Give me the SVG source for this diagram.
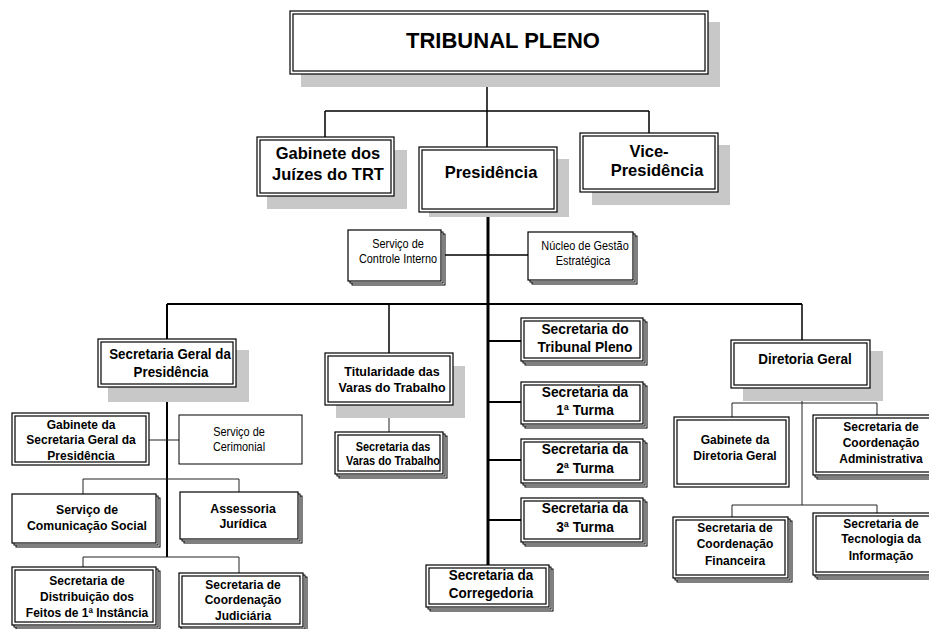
<svg xmlns="http://www.w3.org/2000/svg" width="929" height="629" viewBox="0 0 929 629">
  <style>
    .bg { fill: #ffffff; }
    .box { fill: #ffffff; stroke: #000; stroke-width: 1.2; }
    .inner { fill: none; stroke: #000; stroke-width: 1.2; }
    .sh { fill: #c8c8c8; }
    .stk { fill: #ffffff; stroke: #000; stroke-width: 1; }
    .ln { fill: none; stroke: #000; stroke-width: 1.5; }
    .thk { fill: none; stroke: #000; stroke-width: 3; }
    .med { fill: none; stroke: #000; stroke-width: 2; }
    .thin { fill: none; stroke: #222; stroke-width: 1; }
    text { font-family: "Liberation Sans", Arial, sans-serif; font-weight: bold; text-anchor: middle; fill: #000; }
    .reg { font-weight: normal; }
    /* narrow lettering for the smaller labels */
    .n84, .n89, .n91, .n93, .n95 { transform-box: fill-box; transform-origin: center; }
    .n84 { transform: scaleX(0.84); }
    .n89 { transform: scaleX(0.89); }
    .n91 { transform: scaleX(0.91); }
    .n93 { transform: scaleX(0.93); }
    .n95 { transform: scaleX(0.95); }
  </style>
  <rect class="bg" x="0" y="0" width="929" height="629"/>

  <!-- connectors -->
  <g id="connectors">
    <path class="ln" d="M487 74 V111 M325 111 H649 M325 111 V137 M649 111 V133 M487 111 V147"/>
    <path class="thk" d="M488 212 V565"/>
    <path class="ln" d="M441 255 H528"/>
    <path class="med" d="M167 304 H802"/>
    <path class="med" d="M167 304 V339 M167 387 V557"/>
    <path class="thin" d="M149 440 H179"/>
    <path class="thin" d="M83 479 H239 M83 479 V494 M239 479 V492"/>
    <path class="thin" d="M83 557 H239 M83 557 V567 M239 557 V573"/>
    <path class="ln" d="M389 304 V353"/>
    <path class="thin" d="M389 405 V432"/>
    <path class="med" d="M488 341 H521 M488 402 H521 M488 460 H521 M488 520 H521"/>
    <path class="ln" d="M802 304 V340"/>
    <path class="thin" d="M802 388 V505 M732 403 H877 M732 403 V417 M877 403 V415 M732 505 H877 M732 505 V517 M877 505 V513"/>
  </g>

  <!-- top level -->
  <g id="tribunal-pleno">
    <rect class="sh" x="301" y="22" width="419" height="65"/>
    <rect class="box" x="290" y="11" width="418" height="63"/>
    <rect class="inner" x="293" y="14" width="412" height="57"/>
    <text x="503" y="48" font-size="22">TRIBUNAL PLENO</text>
  </g>

  <g id="gabinete-juizes">
    <rect class="sh" x="267" y="150" width="140" height="59"/>
    <rect class="box" x="257" y="137" width="137" height="59"/>
    <rect class="inner" x="260" y="140" width="131" height="53"/>
    <text x="328" y="159" font-size="16.5">Gabinete dos</text>
    <text x="328" y="180" font-size="16.5">Juízes do TRT</text>
  </g>

  <g id="presidencia">
    <rect class="sh" x="429" y="159" width="140" height="58"/>
    <rect class="box" x="419" y="147" width="138" height="65"/>
    <rect class="inner" x="422" y="150" width="132" height="59"/>
    <text x="491" y="178" font-size="16.5">Presidência</text>
  </g>

  <g id="vice-presidencia">
    <rect class="sh" x="592" y="145" width="138" height="60"/>
    <rect class="box" x="580" y="133" width="138" height="59"/>
    <rect class="inner" x="583" y="136" width="132" height="53"/>
    <text x="649" y="157" font-size="16.5">Vice-</text>
    <text x="657" y="176" font-size="16.5">Presidência</text>
  </g>

  <!-- staff units of the presidency -->
  <g id="controle-interno">
    <rect class="stk" x="352" y="234" width="93" height="51"/>
    <rect class="stk" x="350" y="232" width="93" height="51"/>
    <rect class="box" x="348" y="230" width="93" height="51"/>
    <text class="reg n84" x="398" y="248" font-size="13">Serviço de</text>
    <text class="reg n84" x="398" y="263" font-size="13">Controle Interno</text>
  </g>

  <g id="nucleo-gestao">
    <rect class="stk" x="532" y="236" width="105" height="48"/>
    <rect class="stk" x="530" y="234" width="105" height="48"/>
    <rect class="box" x="528" y="232" width="105" height="48"/>
    <text class="reg n84" x="585" y="250" font-size="13">Núcleo de Gestão</text>
    <text class="reg n84" x="583" y="265" font-size="13">Estratégica</text>
  </g>

  <!-- Secretaria Geral da Presidência branch -->
  <g id="secretaria-geral">
    <rect class="sh" x="108" y="350" width="141" height="52"/>
    <rect class="box" x="98" y="339" width="138" height="48"/>
    <rect class="inner" x="101" y="342" width="132" height="42"/>
    <text class="n89" x="170" y="359" font-size="15">Secretaria Geral da</text>
    <text class="n89" x="171" y="377" font-size="15">Presidência</text>
  </g>

  <g id="gabinete-secretaria-geral">
    <rect class="box" x="12" y="413" width="137" height="52"/>
    <rect class="inner" x="15" y="416" width="131" height="46"/>
    <text class="n89" x="81" y="429" font-size="13.5">Gabinete da</text>
    <text class="n89" x="81" y="444" font-size="13.5">Secretaria Geral da</text>
    <text class="n89" x="81" y="460" font-size="13.5">Presidência</text>
  </g>

  <g id="cerimonial">
    <rect class="box" x="179" y="415" width="123" height="49" style="stroke-width:1"/>
    <text class="reg n84" x="239" y="436" font-size="13">Serviço de</text>
    <text class="reg n84" x="239" y="451" font-size="13">Cerimonial</text>
  </g>

  <g id="comunicacao-social">
    <rect class="stk" x="16" y="498" width="144" height="49"/>
    <rect class="stk" x="14" y="496" width="144" height="49"/>
    <rect class="box" x="12" y="494" width="144" height="49"/>
    <text class="n91" x="87" y="514" font-size="13.5">Serviço de</text>
    <text class="n91" x="87" y="530" font-size="13.5">Comunicação Social</text>
  </g>

  <g id="assessoria-juridica">
    <rect class="stk" x="184" y="496" width="118" height="47"/>
    <rect class="stk" x="182" y="494" width="118" height="47"/>
    <rect class="box" x="180" y="492" width="118" height="47"/>
    <text class="n91" x="243" y="513" font-size="13.5">Assessoria</text>
    <text class="n91" x="243" y="528" font-size="13.5">Jurídica</text>
  </g>

  <g id="distribuicao-feitos">
    <rect class="stk" x="16" y="571" width="144" height="58"/>
    <rect class="stk" x="14" y="569" width="144" height="58"/>
    <rect class="box" x="12" y="567" width="144" height="58"/>
    <rect class="inner" x="15" y="570" width="138" height="52"/>
    <text class="n89" x="87" y="585" font-size="13.5">Secretaria de</text>
    <text class="n89" x="87" y="601" font-size="13.5">Distribuição dos</text>
    <text class="n89" x="87" y="617" font-size="13.5">Feitos de 1ª Instância</text>
  </g>

  <g id="coordenacao-judiciaria">
    <rect class="stk" x="183" y="577" width="124" height="54"/>
    <rect class="stk" x="181" y="575" width="124" height="54"/>
    <rect class="box" x="179" y="573" width="124" height="54"/>
    <rect class="inner" x="182" y="576" width="118" height="48"/>
    <text class="n89" x="243" y="589" font-size="13.5">Secretaria de</text>
    <text class="n89" x="243" y="604" font-size="13.5">Coordenação</text>
    <text class="n89" x="243" y="620" font-size="13.5">Judiciária</text>
  </g>

  <!-- Varas do Trabalho branch -->
  <g id="titularidade-varas">
    <rect class="sh" x="336" y="366" width="129" height="52"/>
    <rect class="box" x="325" y="353" width="128" height="52"/>
    <rect class="inner" x="328" y="356" width="122" height="46"/>
    <text class="n91" x="392" y="376" font-size="13.7">Titularidade das</text>
    <text class="n91" x="392" y="392" font-size="13.7">Varas do Trabalho</text>
  </g>

  <g id="secretaria-varas">
    <rect class="stk" x="339" y="436" width="108" height="42"/>
    <rect class="stk" x="337" y="434" width="108" height="42"/>
    <rect class="box" x="335" y="432" width="108" height="42"/>
    <rect class="inner" x="338" y="435" width="102" height="36"/>
    <text class="n91" x="393" y="451" font-size="12">Secretaria das</text>
    <text class="n91" x="393" y="465" font-size="12">Varas do Trabalho</text>
  </g>

  <!-- secretariats on the central axis -->
  <g id="secretaria-tribunal-pleno">
    <rect class="stk" x="525" y="322" width="122" height="43"/>
    <rect class="stk" x="523" y="320" width="122" height="43"/>
    <rect class="box" x="521" y="318" width="122" height="43"/>
    <rect class="inner" x="524" y="321" width="116" height="37"/>
    <text class="n95" x="585" y="334" font-size="14.5">Secretaria do</text>
    <text class="n95" x="585" y="352" font-size="14.5">Tribunal Pleno</text>
  </g>

  <g id="primeira-turma">
    <rect class="stk" x="525" y="386" width="122" height="42"/>
    <rect class="stk" x="523" y="384" width="122" height="42"/>
    <rect class="box" x="521" y="382" width="122" height="42"/>
    <rect class="inner" x="524" y="385" width="116" height="36"/>
    <text class="n95" x="585" y="397" font-size="14.5">Secretaria da</text>
    <text class="n95" x="585" y="415" font-size="14.5">1ª Turma</text>
  </g>

  <g id="segunda-turma">
    <rect class="stk" x="525" y="443" width="122" height="44"/>
    <rect class="stk" x="523" y="441" width="122" height="44"/>
    <rect class="box" x="521" y="439" width="122" height="44"/>
    <rect class="inner" x="524" y="442" width="116" height="38"/>
    <text class="n95" x="585" y="454" font-size="14.5">Secretaria da</text>
    <text class="n95" x="585" y="473" font-size="14.5">2ª Turma</text>
  </g>

  <g id="terceira-turma">
    <rect class="stk" x="525" y="502" width="122" height="44"/>
    <rect class="stk" x="523" y="500" width="122" height="44"/>
    <rect class="box" x="521" y="498" width="122" height="44"/>
    <rect class="inner" x="524" y="501" width="116" height="38"/>
    <text class="n95" x="585" y="513" font-size="14.5">Secretaria da</text>
    <text class="n95" x="585" y="532" font-size="14.5">3ª Turma</text>
  </g>

  <g id="corregedoria">
    <rect class="stk" x="430" y="569" width="123" height="42"/>
    <rect class="stk" x="428" y="567" width="123" height="42"/>
    <rect class="box" x="426" y="565" width="123" height="42"/>
    <rect class="inner" x="429" y="568" width="117" height="36"/>
    <text class="n93" x="491" y="580" font-size="14.5">Secretaria da</text>
    <text class="n93" x="491" y="598" font-size="14.5">Corregedoria</text>
  </g>

  <!-- Diretoria Geral branch -->
  <g id="diretoria-geral">
    <rect class="sh" x="743" y="351" width="140" height="50"/>
    <rect class="box" x="731" y="340" width="139" height="48"/>
    <rect class="inner" x="734" y="343" width="133" height="42"/>
    <text class="n93" x="805" y="364" font-size="14.5">Diretoria Geral</text>
  </g>

  <g id="gabinete-diretoria">
    <rect class="box" x="674" y="417" width="115" height="70"/>
    <rect class="inner" x="677" y="420" width="109" height="64"/>
    <text class="n89" x="735" y="444" font-size="13.5">Gabinete da</text>
    <text class="n89" x="735" y="460" font-size="13.5">Diretoria Geral</text>
  </g>

  <g id="coordenacao-administrativa">
    <rect class="stk" x="817" y="419" width="130" height="60"/>
    <rect class="stk" x="815" y="417" width="130" height="60"/>
    <rect class="box" x="813" y="415" width="130" height="60"/>
    <rect class="inner" x="816" y="418" width="124" height="54"/>
    <text class="n89" x="881" y="431" font-size="13.5">Secretaria de</text>
    <text class="n89" x="881" y="447" font-size="13.5">Coordenação</text>
    <text class="n89" x="881" y="463" font-size="13.5">Administrativa</text>
  </g>

  <g id="coordenacao-financeira">
    <rect class="stk" x="677" y="521" width="115" height="61"/>
    <rect class="stk" x="675" y="519" width="115" height="61"/>
    <rect class="box" x="673" y="517" width="115" height="61"/>
    <rect class="inner" x="676" y="520" width="109" height="55"/>
    <text class="n89" x="735" y="532" font-size="13.5">Secretaria de</text>
    <text class="n89" x="735" y="548" font-size="13.5">Coordenação</text>
    <text class="n89" x="735" y="565" font-size="13.5">Financeira</text>
  </g>

  <g id="tecnologia-informacao">
    <rect class="stk" x="817" y="517" width="130" height="62"/>
    <rect class="stk" x="815" y="515" width="130" height="62"/>
    <rect class="box" x="813" y="513" width="130" height="62"/>
    <rect class="inner" x="816" y="516" width="124" height="56"/>
    <text class="n89" x="881" y="528" font-size="13.5">Secretaria de</text>
    <text class="n89" x="881" y="543" font-size="13.5">Tecnologia da</text>
    <text class="n89" x="881" y="560" font-size="13.5">Informação</text>
  </g>
</svg>
